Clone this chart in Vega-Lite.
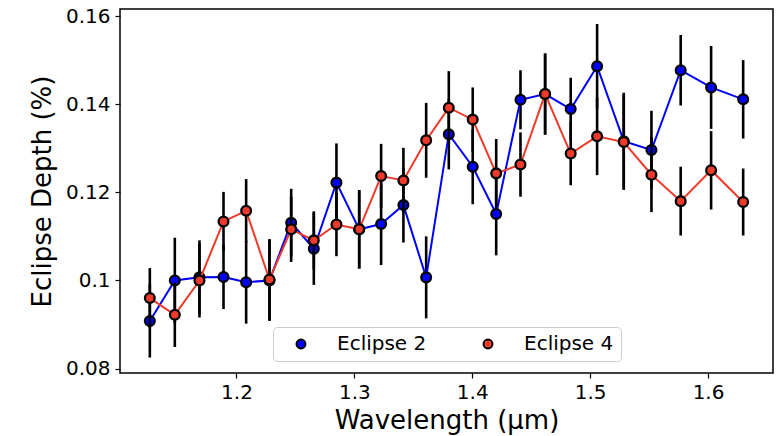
{
  "$schema": "https://vega.github.io/schema/vega-lite/v6.json",
  "width": 653,
  "height": 364,
  "autosize": {"type": "none"},
  "padding": {"left": 120, "top": 9, "right": 6, "bottom": 63},
  "background": "white",
  "config": {
    "font": "DejaVu Sans",
    "view": {"stroke": "black", "strokeWidth": 1.5},
    "axis": {
      "domain": false,
      "grid": false,
      "tickColor": "black",
      "tickSize": 5,
      "tickWidth": 1.2,
      "labelFont": "DejaVu Sans",
      "labelFontSize": 20,
      "labelColor": "black",
      "titleFont": "DejaVu Sans",
      "titleFontSize": 26,
      "titleFontWeight": "normal",
      "titleColor": "black"
    },
    "legend": {
      "orient": "none",
      "legendX": 153,
      "legendY": 318,
      "direction": "horizontal",
      "strokeColor": "#cccccc",
      "fillColor": "rgba(255,255,255,0.8)",
      "cornerRadius": 4,
      "padding": 7,
      "symbolType": "circle",
      "symbolSize": 80,
      "symbolStrokeColor": "black",
      "symbolStrokeWidth": 2,
      "symbolOpacity": 1,
      "labelFont": "DejaVu Sans",
      "labelFontSize": 20,
      "labelColor": "black",
      "labelOffset": 26,
      "columnPadding": 40,
      "symbolOffset": 11
    }
  },
  "data": {
    "values": [
      {"series": "Eclipse 2", "wl": 1.1265, "depth": 0.0908, "err": 0.0083},
      {"series": "Eclipse 2", "wl": 1.1477, "depth": 0.1000, "err": 0.0097},
      {"series": "Eclipse 2", "wl": 1.1686, "depth": 0.1007, "err": 0.0084},
      {"series": "Eclipse 2", "wl": 1.1890, "depth": 0.1008, "err": 0.0073},
      {"series": "Eclipse 2", "wl": 1.2082, "depth": 0.0996, "err": 0.0094},
      {"series": "Eclipse 2", "wl": 1.2280, "depth": 0.1000, "err": 0.0092},
      {"series": "Eclipse 2", "wl": 1.2464, "depth": 0.1131, "err": 0.0077},
      {"series": "Eclipse 2", "wl": 1.2656, "depth": 0.1072, "err": 0.0082},
      {"series": "Eclipse 2", "wl": 1.2848, "depth": 0.1222, "err": 0.0089},
      {"series": "Eclipse 2", "wl": 1.3041, "depth": 0.1116, "err": 0.0089},
      {"series": "Eclipse 2", "wl": 1.3227, "depth": 0.1128, "err": 0.0093},
      {"series": "Eclipse 2", "wl": 1.3416, "depth": 0.1171, "err": 0.0085},
      {"series": "Eclipse 2", "wl": 1.3609, "depth": 0.1007, "err": 0.0093},
      {"series": "Eclipse 2", "wl": 1.3801, "depth": 0.1332, "err": 0.0080},
      {"series": "Eclipse 2", "wl": 1.4004, "depth": 0.1258, "err": 0.0085},
      {"series": "Eclipse 2", "wl": 1.4203, "depth": 0.1151, "err": 0.0094},
      {"series": "Eclipse 2", "wl": 1.4409, "depth": 0.1410, "err": 0.0067},
      {"series": "Eclipse 2", "wl": 1.4618, "depth": 0.1423, "err": 0.0092},
      {"series": "Eclipse 2", "wl": 1.4835, "depth": 0.1389, "err": 0.0071},
      {"series": "Eclipse 2", "wl": 1.5059, "depth": 0.1486, "err": 0.0096},
      {"series": "Eclipse 2", "wl": 1.5285, "depth": 0.1316, "err": 0.0110},
      {"series": "Eclipse 2", "wl": 1.5520, "depth": 0.1296, "err": 0.0089},
      {"series": "Eclipse 2", "wl": 1.5768, "depth": 0.1477, "err": 0.0080},
      {"series": "Eclipse 2", "wl": 1.6026, "depth": 0.1438, "err": 0.0094},
      {"series": "Eclipse 2", "wl": 1.6298, "depth": 0.1411, "err": 0.0089},
      {"series": "Eclipse 4", "wl": 1.1265, "depth": 0.0960, "err": 0.0068},
      {"series": "Eclipse 4", "wl": 1.1477, "depth": 0.0922, "err": 0.0073},
      {"series": "Eclipse 4", "wl": 1.1686, "depth": 0.1000, "err": 0.0084},
      {"series": "Eclipse 4", "wl": 1.1890, "depth": 0.1134, "err": 0.0067},
      {"series": "Eclipse 4", "wl": 1.2082, "depth": 0.1158, "err": 0.0072},
      {"series": "Eclipse 4", "wl": 1.2280, "depth": 0.1002, "err": 0.0092},
      {"series": "Eclipse 4", "wl": 1.2464, "depth": 0.1116, "err": 0.0074},
      {"series": "Eclipse 4", "wl": 1.2656, "depth": 0.1091, "err": 0.0066},
      {"series": "Eclipse 4", "wl": 1.2848, "depth": 0.1127, "err": 0.0072},
      {"series": "Eclipse 4", "wl": 1.3041, "depth": 0.1116, "err": 0.0089},
      {"series": "Eclipse 4", "wl": 1.3227, "depth": 0.1237, "err": 0.0073},
      {"series": "Eclipse 4", "wl": 1.3416, "depth": 0.1227, "err": 0.0074},
      {"series": "Eclipse 4", "wl": 1.3609, "depth": 0.1318, "err": 0.0085},
      {"series": "Eclipse 4", "wl": 1.3801, "depth": 0.1392, "err": 0.0083},
      {"series": "Eclipse 4", "wl": 1.4004, "depth": 0.1365, "err": 0.0073},
      {"series": "Eclipse 4", "wl": 1.4203, "depth": 0.1243, "err": 0.0078},
      {"series": "Eclipse 4", "wl": 1.4409, "depth": 0.1263, "err": 0.0073},
      {"series": "Eclipse 4", "wl": 1.4618, "depth": 0.1423, "err": 0.0092},
      {"series": "Eclipse 4", "wl": 1.4835, "depth": 0.1288, "err": 0.0072},
      {"series": "Eclipse 4", "wl": 1.5059, "depth": 0.1327, "err": 0.0088},
      {"series": "Eclipse 4", "wl": 1.5285, "depth": 0.1314, "err": 0.0108},
      {"series": "Eclipse 4", "wl": 1.5520, "depth": 0.1240, "err": 0.0085},
      {"series": "Eclipse 4", "wl": 1.5768, "depth": 0.1180, "err": 0.0078},
      {"series": "Eclipse 4", "wl": 1.6026, "depth": 0.1250, "err": 0.0089},
      {"series": "Eclipse 4", "wl": 1.6298, "depth": 0.1178, "err": 0.0076}
    ]
  },
  "encoding": {
    "x": {
      "field": "wl",
      "type": "quantitative",
      "scale": {"domain": [1.1012, 1.6551], "nice": false, "zero": false},
      "axis": {"title": "Wavelength (μm)", "values": [1.2, 1.3, 1.4, 1.5, 1.6], "format": ".1f", "labelPadding": 4, "titlePadding": 5}
    },
    "y": {
      "field": "depth",
      "type": "quantitative",
      "scale": {"domain": [0.079, 0.1616], "nice": false, "zero": false},
      "axis": {"title": "Eclipse Depth (%)", "values": [0.08, 0.1, 0.12, 0.14, 0.16], "format": ".2~f", "labelPadding": 5, "titlePadding": 10}
    }
  },
  "layer": [
    {
      "transform": [{"filter": "datum.series === 'Eclipse 2'"}],
      "mark": {"type": "errorbar", "color": "black", "thickness": 2.6},
      "encoding": {"yError": {"field": "err"}}
    },
    {
      "transform": [{"filter": "datum.series === 'Eclipse 2'"}],
      "mark": {"type": "line", "color": "#0000ff", "strokeWidth": 2}
    },
    {
      "transform": [{"filter": "datum.series === 'Eclipse 2'"}],
      "mark": {"type": "point", "filled": true, "shape": "circle", "size": 95, "stroke": "black", "strokeWidth": 2.3, "opacity": 1},
      "encoding": {
        "fill": {"field": "series", "type": "nominal", "scale": {"domain": ["Eclipse 2", "Eclipse 4"], "range": ["#0000ff", "#ee3a2a"]}, "legend": {"title": null}}
      }
    },
    {
      "transform": [{"filter": "datum.series === 'Eclipse 4'"}],
      "mark": {"type": "errorbar", "color": "black", "thickness": 2.6},
      "encoding": {"yError": {"field": "err"}}
    },
    {
      "transform": [{"filter": "datum.series === 'Eclipse 4'"}],
      "mark": {"type": "line", "color": "#ee3a2a", "strokeWidth": 2}
    },
    {
      "transform": [{"filter": "datum.series === 'Eclipse 4'"}],
      "mark": {"type": "point", "filled": true, "shape": "circle", "size": 95, "stroke": "black", "strokeWidth": 2.3, "opacity": 1},
      "encoding": {
        "fill": {"field": "series", "type": "nominal", "scale": {"domain": ["Eclipse 2", "Eclipse 4"], "range": ["#0000ff", "#ee3a2a"]}, "legend": {"title": null}}
      }
    }
  ]
}
